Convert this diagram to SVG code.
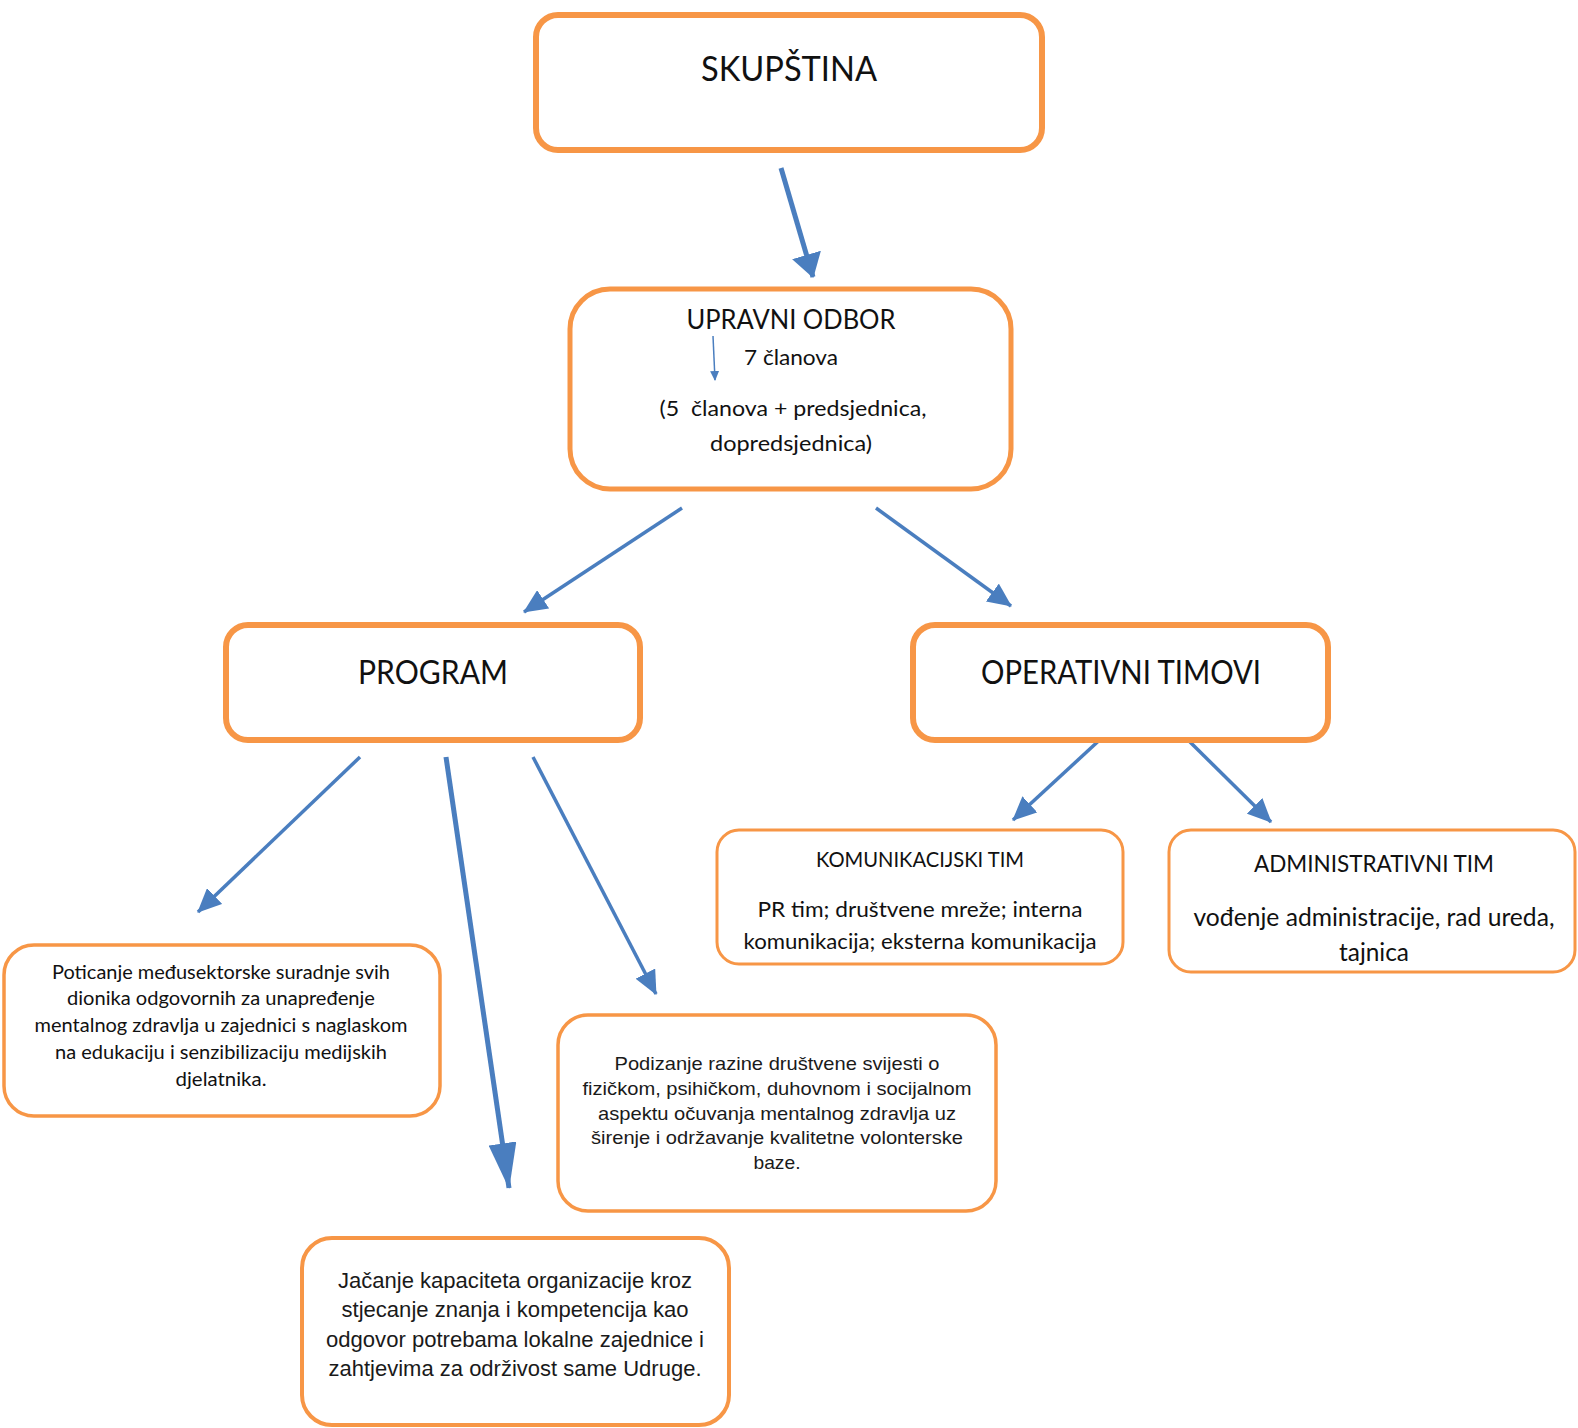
<svg xmlns="http://www.w3.org/2000/svg" width="1578" height="1428" viewBox="0 0 1578 1428">
<style>
.box{fill:#fff;stroke:#F79646}
.c{font-family:Lato,"Carlito","Open Sans",sans-serif;fill:#111;text-anchor:middle}
.a{font-family:"Liberation Sans",Arial,sans-serif;fill:#1a1a1a;text-anchor:middle}
.con{stroke:#4A7EBF;fill:none}
</style>
<defs>
<marker id="ah" markerUnits="userSpaceOnUse" viewBox="0 0 24 22" markerWidth="24" markerHeight="22" refX="23" refY="11" orient="auto"><path d="M0,0 L24,11 L0,22 z" fill="#4A7EBF"/></marker>
<marker id="ahw" markerUnits="userSpaceOnUse" viewBox="0 0 24 30" markerWidth="24" markerHeight="30" refX="23" refY="15" orient="auto"><path d="M0,0 L24,15 L0,30 z" fill="#4A7EBF"/></marker>
<marker id="ahb" markerUnits="userSpaceOnUse" viewBox="0 0 46 28" markerWidth="46" markerHeight="28" refX="45" refY="14" orient="auto"><path d="M0,0 L46,14 L0,28 z" fill="#4A7EBF"/></marker>
<marker id="ahs" markerUnits="userSpaceOnUse" viewBox="0 0 10 9" markerWidth="10" markerHeight="9" refX="9" refY="4.5" orient="auto"><path d="M0,0 L10,4.5 L0,9 z" fill="#4A7EBF"/></marker>
</defs>

<g id="connectors">
<line class="con" x1="781" y1="168" x2="813" y2="277" stroke-width="5" marker-end="url(#ahw)"/>
<line class="con" x1="682" y1="508" x2="524" y2="612" stroke-width="3.5" marker-end="url(#ah)"/>
<line class="con" x1="876" y1="508" x2="1011" y2="606" stroke-width="3.5" marker-end="url(#ah)"/>
<line class="con" x1="360" y1="757" x2="198" y2="912" stroke-width="3.5" marker-end="url(#ah)"/>
<line class="con" x1="446" y1="757" x2="509" y2="1188" stroke-width="5" marker-end="url(#ahb)"/>
<line class="con" x1="533" y1="757" x2="656" y2="994" stroke-width="3.5" marker-end="url(#ah)"/>
<line class="con" x1="1105" y1="735" x2="1013" y2="820" stroke-width="3.5" marker-end="url(#ah)"/>
<line class="con" x1="1188" y1="740" x2="1271" y2="822" stroke-width="3.5" marker-end="url(#ah)"/>
</g>

<g id="skupstina">
<rect class="box" x="536" y="15" width="506" height="135" rx="22" stroke-width="6"/>
<text class="c" x="789" y="81" font-size="35" textLength="176" lengthAdjust="spacingAndGlyphs">SKUPŠTINA</text>
</g>

<g id="upravni-odbor">
<rect class="box" x="570" y="289" width="441" height="200" rx="40" stroke-width="5"/>
<text class="c" x="791" y="329" font-size="26" textLength="209" lengthAdjust="spacingAndGlyphs">UPRAVNI ODBOR</text>
<line class="con" x1="713" y1="336" x2="715" y2="380" stroke-width="1.5" marker-end="url(#ahs)"/>
<text class="c" x="791" y="365" font-size="21" textLength="94" lengthAdjust="spacingAndGlyphs">7 članova</text>
<text class="c" x="793" y="416" font-size="21" textLength="267" lengthAdjust="spacingAndGlyphs" xml:space="preserve">(5  članova + predsjednica,</text>
<text class="c" x="791" y="451" font-size="21" textLength="162" lengthAdjust="spacingAndGlyphs">dopredsjednica)</text>
</g>

<g id="program">
<rect class="box" x="226" y="625" width="414" height="115" rx="22" stroke-width="6"/>
<text class="c" x="433" y="684" font-size="33" textLength="150" lengthAdjust="spacingAndGlyphs">PROGRAM</text>
</g>

<g id="operativni-timovi">
<rect class="box" x="913" y="625" width="415" height="115" rx="22" stroke-width="6"/>
<text class="c" x="1121" y="684" font-size="33" textLength="280" lengthAdjust="spacingAndGlyphs">OPERATIVNI TIMOVI</text>
</g>

<g id="komunikacijski-tim">
<rect class="box" x="717" y="830" width="406" height="134" rx="22" stroke-width="3"/>
<text class="c" x="920" y="867" font-size="21" textLength="208" lengthAdjust="spacingAndGlyphs">KOMUNIKACIJSKI TIM</text>
<text class="c" x="920" y="917" font-size="21" textLength="325" lengthAdjust="spacingAndGlyphs">PR tim; društvene mreže; interna</text>
<text class="c" x="920" y="949" font-size="21" textLength="353" lengthAdjust="spacingAndGlyphs">komunikacija; eksterna komunikacija</text>
</g>

<g id="administrativni-tim">
<rect class="box" x="1169" y="830" width="406" height="142" rx="22" stroke-width="3"/>
<text class="c" x="1374" y="872" font-size="24" textLength="240" lengthAdjust="spacingAndGlyphs">ADMINISTRATIVNI TIM</text>
<text class="c" x="1374" y="926" font-size="25" textLength="361" lengthAdjust="spacingAndGlyphs">vođenje administracije, rad ureda,</text>
<text class="c" x="1374" y="961" font-size="25" textLength="70" lengthAdjust="spacingAndGlyphs">tajnica</text>
</g>

<g id="poticanje">
<rect class="box" x="4" y="945" width="436" height="171" rx="30" stroke-width="3.5"/>
<text class="c" x="221" y="979" font-size="18.5" textLength="338" lengthAdjust="spacingAndGlyphs">Poticanje međusektorske suradnje svih</text>
<text class="c" x="221" y="1005" font-size="18.5" textLength="308" lengthAdjust="spacingAndGlyphs">dionika odgovornih za unapređenje</text>
<text class="c" x="221" y="1032" font-size="18.5" textLength="373" lengthAdjust="spacingAndGlyphs">mentalnog zdravlja u zajednici s naglaskom</text>
<text class="c" x="221" y="1059" font-size="18.5" textLength="332" lengthAdjust="spacingAndGlyphs">na edukaciju i senzibilizaciju medijskih</text>
<text class="c" x="221" y="1086" font-size="18.5" textLength="91" lengthAdjust="spacingAndGlyphs">djelatnika.</text>
</g>

<g id="podizanje">
<rect class="box" x="558" y="1015" width="438" height="196" rx="30" stroke-width="3.5"/>
<text class="a" x="777" y="1070" font-size="19" textLength="325" lengthAdjust="spacingAndGlyphs">Podizanje razine društvene svijesti o</text>
<text class="a" x="777" y="1095" font-size="19" textLength="389" lengthAdjust="spacingAndGlyphs">fizičkom, psihičkom, duhovnom i socijalnom</text>
<text class="a" x="777" y="1120" font-size="19" textLength="358" lengthAdjust="spacingAndGlyphs">aspektu očuvanja mentalnog zdravlja uz</text>
<text class="a" x="777" y="1144" font-size="19" textLength="372" lengthAdjust="spacingAndGlyphs">širenje i održavanje kvalitetne volonterske</text>
<text class="a" x="777" y="1169" font-size="19" textLength="47" lengthAdjust="spacingAndGlyphs">baze.</text>
</g>

<g id="jacanje">
<rect class="box" x="302" y="1238" width="427" height="187" rx="30" stroke-width="4"/>
<text class="a" x="515" y="1288" font-size="21.5" textLength="354" lengthAdjust="spacingAndGlyphs">Jačanje kapaciteta organizacije kroz</text>
<text class="a" x="515" y="1317" font-size="21.5" textLength="347" lengthAdjust="spacingAndGlyphs">stjecanje znanja i kompetencija kao</text>
<text class="a" x="515" y="1347" font-size="21.5" textLength="378" lengthAdjust="spacingAndGlyphs">odgovor potrebama lokalne zajednice i</text>
<text class="a" x="515" y="1376" font-size="21.5" textLength="373" lengthAdjust="spacingAndGlyphs">zahtjevima za održivost same Udruge.</text>
</g>
</svg>
